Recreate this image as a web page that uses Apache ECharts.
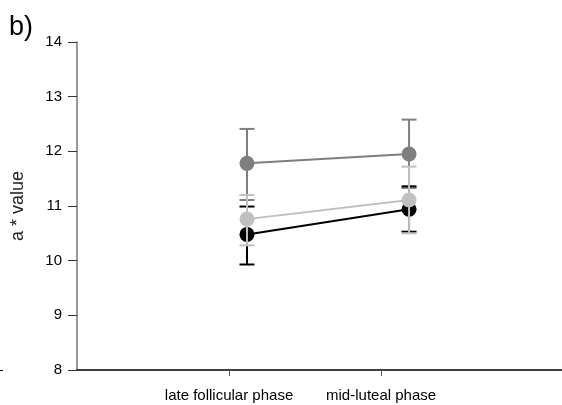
<!DOCTYPE html>
<html><head><meta charset="utf-8">
<script src="https://cdn.jsdelivr.net/npm/echarts@6/dist/echarts.min.js"></script>
<style>html,body{margin:0;padding:0;background:#fff}#c{width:562px;height:405px}</style>
</head><body><div id="c"></div>
<script>
const categories = ['late follicular phase', 'mid-luteal phase'];
const categoryTicks = [1, 2];
const pointX = [1.118, 2.184];
const darkMean = [11.78, 11.95];
const darkLow = [11.11, 11.33];
const darkHigh = [12.41, 12.58];
const lightMean = [10.76, 11.11];
const lightLow = [10.28, 10.50];
const lightHigh = [11.20, 11.72];
const blackMean = [10.48, 10.94];
const blackLow = [9.93, 10.53];
const blackHigh = [10.99, 11.36];
const yTicks = [8, 9, 10, 11, 12, 13, 14];

const FONT = 'Liberation Sans, Arial, sans-serif';
function errSeries(color, low, high, z) {
  return {
    type: 'custom', z: z,
    data: pointX.map((x, i) => [x, low[i], high[i]]),
    renderItem: function (params, api) {
      const lo = api.coord([api.value(0), api.value(1)]);
      const hi = api.coord([api.value(0), api.value(2)]);
      const w = 7.5;
      const st = { stroke: color, lineWidth: 2 };
      return { type: 'group', children: [
        { type: 'line', shape: { x1: lo[0], y1: lo[1], x2: hi[0], y2: hi[1] }, style: st },
        { type: 'line', shape: { x1: lo[0] - w, y1: lo[1], x2: lo[0] + w, y2: lo[1] }, style: st },
        { type: 'line', shape: { x1: hi[0] - w, y1: hi[1], x2: hi[0] + w, y2: hi[1] }, style: st }
      ]};
    }
  };
}
function lineSeries(color, mean, z) {
  return {
    type: 'line', z: z, symbol: 'circle', symbolSize: 15,
    data: pointX.map((x, i) => [x, mean[i]]),
    lineStyle: { color: color, width: 2 },
    itemStyle: { color: color },
    animation: false
  };
}
const chart = echarts.init(document.getElementById('c'));
chart.setOption({
  animation: false,
  grid: { left: 77, right: 0, top: 42, bottom: 35 },
  xAxis: {
    type: 'value', min: 0, max: 3.19,
    splitLine: { show: false },
    axisLine: { lineStyle: { color: '#000', width: 1.5 } },
    axisTick: { show: true, customValues: categoryTicks, length: 6, lineStyle: { color: '#555' } },
    axisLabel: {
      customValues: categoryTicks, margin: 18, color: '#000', fontFamily: FONT, fontSize: 15,
      formatter: v => categories[Math.round(v) - 1] || ''
    }
  },
  yAxis: {
    type: 'value', min: 8, max: 14, interval: 1,
    name: 'a * value', nameLocation: 'middle', nameGap: 50, nameRotate: 90,
    nameTextStyle: { color: '#222', fontFamily: FONT, fontSize: 18 },
    splitLine: { show: false },
    axisLine: { show: true, lineStyle: { color: '#777', width: 1.5 } },
    axisTick: { show: true, length: 9, lineStyle: { color: '#333' } },
    axisLabel: { color: '#000', fontFamily: FONT, fontSize: 15, margin: 15 }
  },
  graphic: [
    { type: 'text', left: 9, top: 14, style: { text: 'b)', fontFamily: FONT, fontSize: 27, fill: '#000' } },
    { type: 'line', shape: { x1: 0, y1: 370.5, x2: 3, y2: 370.5 }, style: { stroke: '#000', lineWidth: 1 } }
  ],
  series: [
    lineSeries('#7f7f7f', darkMean, 2),
    errSeries('#7f7f7f', darkLow, darkHigh, 3),
    lineSeries('#000000', blackMean, 4),
    errSeries('#000000', blackLow, blackHigh, 5),
    lineSeries('#c0c0c0', lightMean, 6),
    errSeries('#c0c0c0', lightLow, lightHigh, 7)
  ]
});
</script></body></html>
